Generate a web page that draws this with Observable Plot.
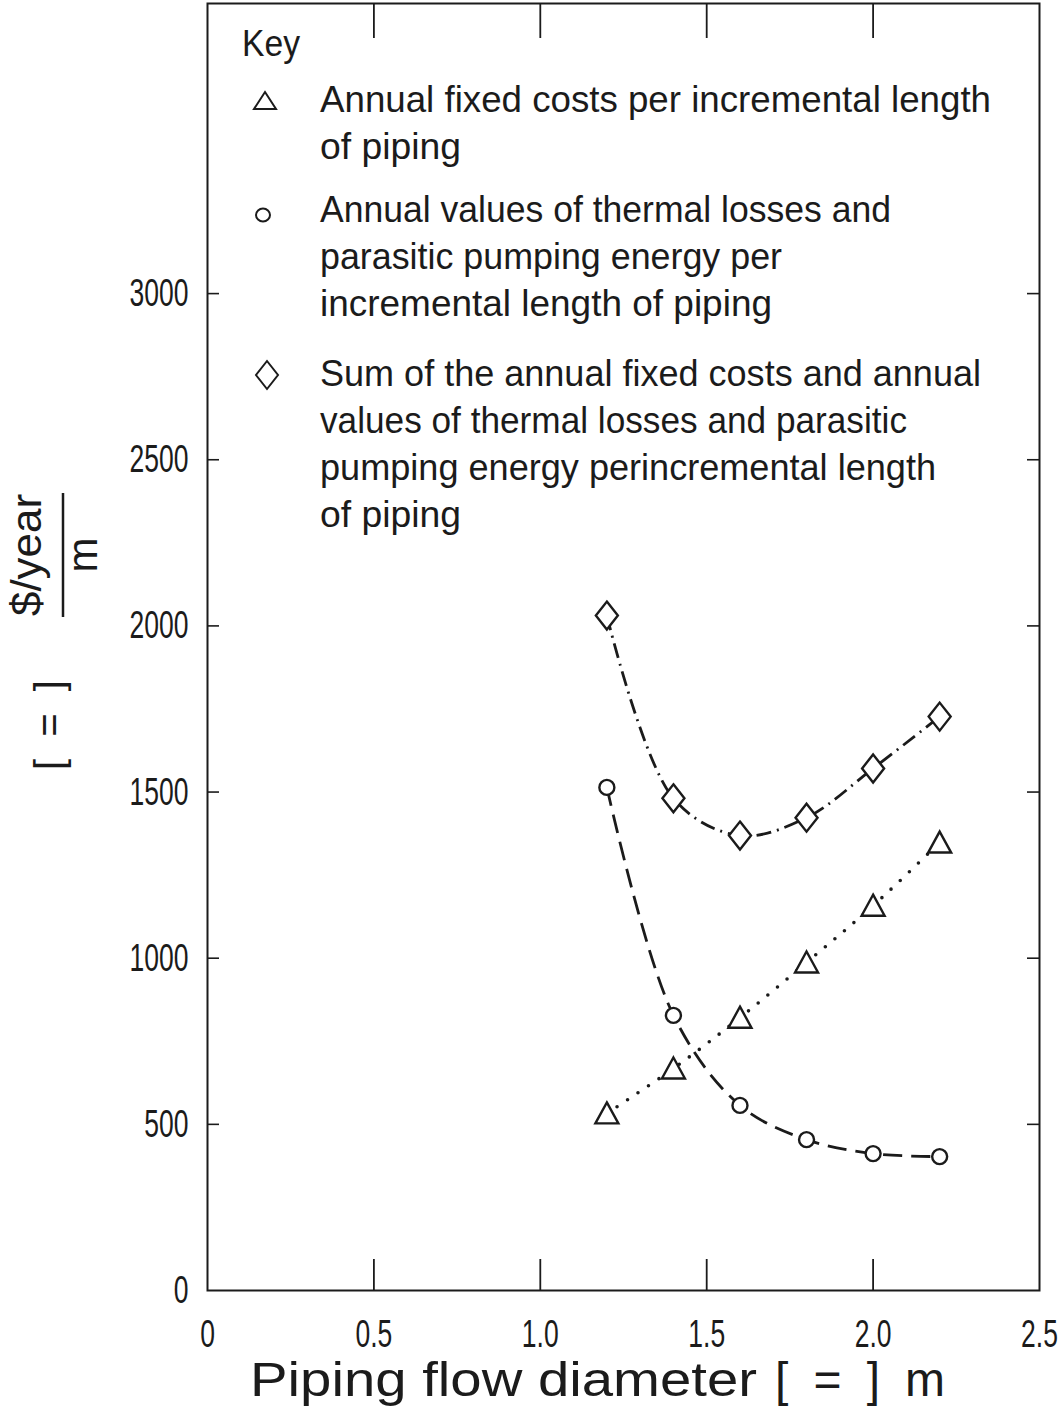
<!DOCTYPE html>
<html><head><meta charset="utf-8">
<script src="https://cdn.jsdelivr.net/npm/d3@7"></script>
<script src="https://cdn.jsdelivr.net/npm/@observablehq/plot@0.6"></script>
<style>
html,body{margin:0;padding:0;background:#fff;}
#chart svg{display:block;}
</style></head><body><div id="chart"></div>
<script>
// ---- data ----
const diameters = [1.2, 1.4, 1.6, 1.8, 2.0, 2.2];
const fixedCosts = [533, 668, 821, 987, 1158, 1348];
const thermalLosses = [1514, 828, 557, 454, 412, 403];
const totalCosts = [2031, 1481, 1369, 1423, 1571, 1727];

const xTicks = [0, 0.5, 1.0, 1.5, 2.0, 2.5];
const xTickLabels = ["0", "0.5", "1.0", "1.5", "2.0", "2.5"];
const yTicks = [0, 500, 1000, 1500, 2000, 2500, 3000];
const xInnerTicks = [0.5, 1.0, 1.5, 2.0];
const yInnerTicks = [500, 1000, 1500, 2000, 2500, 3000];

const keyTitle = "Key";
const keyFixed = ["Annual fixed costs per incremental length", "of piping"];
const keyThermal = ["Annual values of thermal losses and", "parasitic pumping energy per", "incremental length of piping"];
const keyTotal = ["Sum of the annual fixed costs and annual", "values of thermal losses and parasitic", "pumping energy perincremental length", "of piping"];

const xTitleParts = ["Piping flow diameter", "[ = ]", "m"];
const yTitleBracket = "[ = ]";
const yTitleNumerator = "$/year";
const yTitleDenominator = "m";

// ---- build tables ----
const fixedData = diameters.map((d, i) => ({d, v: fixedCosts[i]}));
const thermalData = diameters.map((d, i) => ({d, v: thermalLosses[i]}));
const totalData = diameters.map((d, i) => ({d, v: totalCosts[i]}));

const ink = "#1b1b1b";
const sans = "'Liberation Sans',Arimo,Arial,'DejaVu Sans',sans-serif";

const triangleSym = {draw(ctx) { ctx.moveTo(0, -11); ctx.lineTo(11.5, 10); ctx.lineTo(-11.5, 10); ctx.closePath(); }};
const diamondSym = {draw(ctx) { ctx.moveTo(0, -14); ctx.lineTo(11, 0); ctx.lineTo(0, 14); ctx.lineTo(-11, 0); ctx.closePath(); }};

const W = 1062, H = 1407, mL = 207, mR = 23, mT = 3, mB = 117;
const innerW = W - mL - mR, innerH = H - mT - mB;

const plot = Plot.plot({
  width: W, height: H,
  marginLeft: mL, marginRight: mR, marginTop: mT, marginBottom: mB,
  style: {fontFamily: sans, fontSize: "39px", color: ink, background: "white"},
  x: {domain: [0, 2.5], ticks: xTicks, tickSize: 0, tickPadding: 29,
      tickFormat: d => xTickLabels[xTicks.indexOf(d)], label: null},
  y: {domain: [0, 3873], ticks: yTicks, tickSize: 0, tickPadding: 19,
      tickFormat: d => String(d), label: null},
  marks: [
    Plot.frame({stroke: ink, strokeWidth: 2}),
    Plot.tickY(yInnerTicks, {y: d => d, stroke: ink, strokeWidth: 1.6, insetRight: innerW - 12}),
    Plot.tickY(yInnerTicks, {y: d => d, stroke: ink, strokeWidth: 1.6, insetLeft: innerW - 12}),
    Plot.tickX(xInnerTicks, {x: d => d, stroke: ink, strokeWidth: 1.8, insetTop: innerH - 31}),
    Plot.tickX(xInnerTicks, {x: d => d, stroke: ink, strokeWidth: 1.8, insetBottom: innerH - 35}),
    Plot.line(fixedData, {x: "d", y: "v", curve: "catmull-rom", stroke: ink, strokeWidth: 3.6,
      strokeDasharray: "0,12.5", strokeLinecap: "round"}),
    Plot.line(thermalData, {x: "d", y: "v", curve: "catmull-rom", stroke: ink, strokeWidth: 2.8,
      strokeDasharray: "19,9", strokeLinecap: "butt"}),
    Plot.line(totalData, {x: "d", y: "v", curve: "catmull-rom", stroke: ink, strokeWidth: 2.8,
      strokeDasharray: "15,6,2,6", strokeLinecap: "butt"}),
    Plot.dot(fixedData, {x: "d", y: "v", symbol: triangleSym, r: 8, fill: "white", stroke: ink, strokeWidth: 2.4}),
    Plot.dot(thermalData, {x: "d", y: "v", symbol: "circle", r: 7.5, fill: "white", stroke: ink, strokeWidth: 2.4}),
    Plot.dot(totalData, {x: "d", y: "v", symbol: diamondSym, r: 8, fill: "white", stroke: ink, strokeWidth: 2.4})
  ]
});
document.getElementById("chart").append(plot);

const svg = d3.select(plot);

// condense the tick labels (the reference uses a narrow typeface)
svg.selectAll("g[aria-label='x-axis tick label'] text, g[aria-label='y-axis tick label'] text")
  .each(function() {
    const el = d3.select(this);
    let t = el.attr("transform");
    if (!t) {
      t = `translate(${+el.attr("x") || 0},${+el.attr("y") || 0})`;
      el.attr("x", null).attr("y", null);
    }
    el.attr("transform", t + " scale(0.68,1)").attr("fill", ink);
  });

// ---- legend ----
const leg = svg.append("g").attr("font-family", sans).attr("font-size", 36)
  .attr("fill", ink).attr("text-anchor", "start");
leg.append("text").attr("x", 242).attr("y", 56).attr("textLength", 58)
  .attr("lengthAdjust", "spacingAndGlyphs").text(keyTitle);
const legendWidths = [[671, 141], [571, 462, 452], [661, 587, 616, 141]];
const groups = [
  {lines: keyFixed, y0: 112, kind: "triangle", sx: 265, sy: 101},
  {lines: keyThermal, y0: 222, kind: "circle", sx: 263, sy: 215},
  {lines: keyTotal, y0: 386, kind: "diamond", sx: 267, sy: 375}
];
groups.forEach((g, gi) => {
  g.lines.forEach((t, i) => {
    leg.append("text").attr("x", 320).attr("y", g.y0 + i * 47)
      .attr("textLength", legendWidths[gi][i]).attr("lengthAdjust", "spacingAndGlyphs").text(t);
  });
  if (g.kind === "circle") {
    leg.append("ellipse").attr("cx", g.sx).attr("cy", g.sy).attr("rx", 7).attr("ry", 6.5)
      .attr("fill", "none").attr("stroke", ink).attr("stroke-width", 2);
  } else {
    leg.append("path").attr("transform", `translate(${g.sx},${g.sy})`)
      .attr("fill", "none").attr("stroke", ink).attr("stroke-width", 2)
      .attr("d", g.kind === "triangle" ? "M0,-9L11,8L-11,8Z" : "M0,-14L11,0L0,14L-11,0Z");
  }
});

// ---- y-axis title ----
const yt = svg.append("g").attr("fill", ink).attr("font-family", sans).attr("text-anchor", "middle");
yt.append("text").attr("transform", "translate(41,555) rotate(-90)")
  .attr("font-size", 42).attr("textLength", 122).attr("lengthAdjust", "spacingAndGlyphs").text(yTitleNumerator);
yt.append("line").attr("x1", 63).attr("x2", 63).attr("y1", 493).attr("y2", 617)
  .attr("stroke", ink).attr("stroke-width", 2.5);
yt.append("text").attr("transform", "translate(97,555) rotate(-90)")
  .attr("font-size", 42).text(yTitleDenominator);
yt.append("text").attr("transform", "translate(63,725) rotate(-90)")
  .attr("font-size", 40).attr("textLength", 90).attr("lengthAdjust", "spacing").text(yTitleBracket);

// ---- x-axis title ----
const xt = svg.append("g").attr("fill", ink).attr("font-family", sans).attr("font-size", 48)
  .attr("text-anchor", "start");
xt.append("text").attr("x", 250).attr("y", 1396).attr("textLength", 507)
  .attr("lengthAdjust", "spacingAndGlyphs").text(xTitleParts[0]);
xt.append("text").attr("x", 775).attr("y", 1396).attr("textLength", 105)
  .attr("lengthAdjust", "spacing").text(xTitleParts[1]);
xt.append("text").attr("x", 905).attr("y", 1396).attr("textLength", 40)
  .attr("lengthAdjust", "spacingAndGlyphs").text(xTitleParts[2]);
</script>
</body></html>
